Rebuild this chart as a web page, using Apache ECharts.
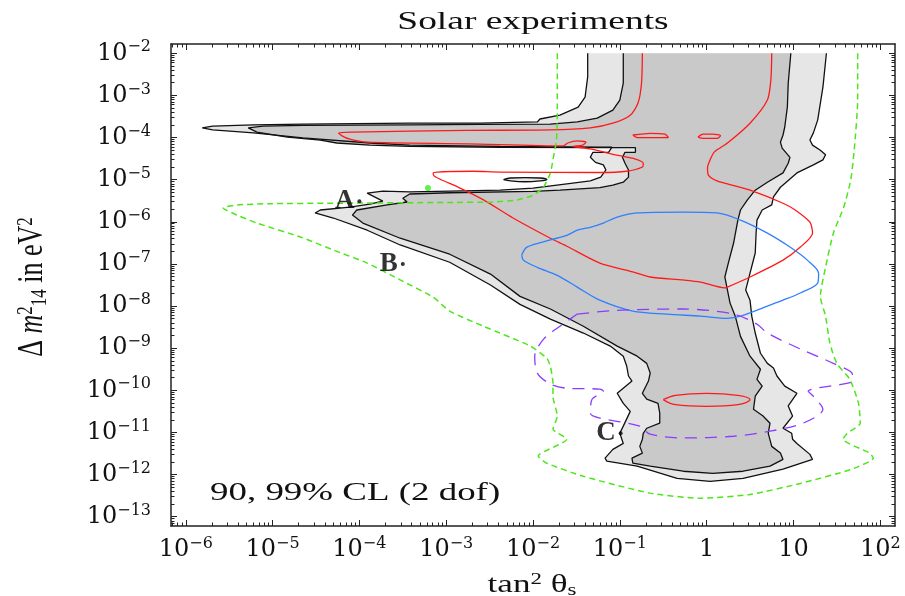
<!DOCTYPE html>
<html>
<head>
<meta charset="utf-8">
<script src="https://cdn.jsdelivr.net/npm/echarts@6/dist/echarts.min.js"></script>
<style>
  html, body { margin: 0; padding: 0; background: #fff; }
  #chart { width: 905px; height: 596px; }
</style>
</head>
<body>
<div id="chart"></div>
<script>
// All coordinates are [log10(tan^2 theta_s), log10(dm^2_14 / eV^2)].

// Axis decades (major ticks and labels)
const xDecades = [-6, -5, -4, -3, -2, -1, 0, 1, 2];
const yDecades = [-13, -12, -11, -10, -9, -8, -7, -6, -5, -4, -3, -2];
const xRange = [-6.17, 2.17];
const yRange = [-13.22, -1.78];

// 99% CL allowed region (open along the top edge of the scan at 1e-2 eV^2)
const cl99 = [
  [-1.37,-2.00],[-1.37,-2.56],[-1.40,-3.04],[-1.48,-3.28],[-1.69,-3.47],[-1.92,-3.56],[-1.95,-3.63],
  [-2.61,-3.66],[-3.42,-3.66],[-4.65,-3.68],[-5.22,-3.70],[-5.69,-3.73],[-5.81,-3.77],
  [-5.69,-3.82],[-5.22,-3.89],[-4.65,-4.01],[-3.88,-4.13],[-3.42,-4.18],[-2.38,-4.21],[-1.23,-4.23],[-1.09,-4.23],
  [-1.13,-4.35],[-1.31,-4.35],[-1.34,-4.47],[-1.28,-4.59],[-1.19,-4.65],[-1.16,-4.77],[-1.22,-4.94],[-1.34,-5.03],
  [-1.61,-5.10],[-2.00,-5.20],[-2.38,-5.25],[-2.96,-5.27],[-3.42,-5.29],[-3.73,-5.27],[-3.91,-5.32],
  [-3.73,-5.51],[-3.88,-5.58],[-4.11,-5.65],[-4.45,-5.72],[-4.51,-5.79],[-4.30,-5.91],[-3.91,-6.20],[-3.53,-6.55],
  [-2.96,-6.96],[-2.49,-7.50],[-2.15,-7.96],[-1.80,-8.31],[-1.42,-8.64],[-1.11,-8.95],[-0.96,-9.19],[-0.92,-9.43],
  [-0.90,-9.66],[-0.86,-9.78],[-1.03,-10.07],[-0.96,-10.31],[-0.88,-10.50],[-0.96,-10.85],[-1.00,-11.02],[-0.96,-11.26],
  [-1.08,-11.40],[-1.17,-11.61],[-1.15,-11.68],[-0.80,-11.80],[-0.34,-12.09],[0.04,-12.16],[0.42,-12.09],[0.88,-11.87],
  [1.22,-11.64],[1.19,-11.52],[1.04,-11.26],[0.99,-11.16],[0.98,-11.02],[0.88,-10.90],[0.99,-10.61],[0.94,-10.37],
  [1.04,-10.07],[0.90,-9.90],[0.81,-9.66],[0.77,-9.47],[0.70,-9.36],[0.62,-9.12],[0.56,-8.64],[0.52,-8.24],[0.50,-7.86],
  [0.45,-7.62],[0.50,-7.22],[0.56,-6.74],[0.57,-6.27],[0.58,-5.96],[0.64,-5.72],[0.75,-5.60],[0.77,-5.41],[0.85,-5.18],
  [1.04,-4.84],[1.23,-4.65],[1.34,-4.53],[1.37,-4.41],[1.31,-4.30],[1.22,-4.18],[1.19,-4.06],[1.23,-3.89],[1.28,-3.58],
  [1.34,-2.80],[1.38,-2.00]
];

// 90% CL allowed region
const cl90 = [
  [-0.96,-2.00],[-0.96,-2.71],[-1.00,-3.11],[-1.08,-3.35],[-1.26,-3.54],[-1.49,-3.63],[-1.80,-3.68],[-2.61,-3.69],
  [-3.42,-3.70],[-4.65,-3.71],[-5.11,-3.73],[-5.28,-3.77],[-5.18,-3.87],[-4.83,-3.99],[-4.45,-4.06],[-4.26,-4.13],
  [-3.88,-4.18],[-3.42,-4.21],[-2.38,-4.23],[-1.23,-4.24],[-0.82,-4.24],[-0.82,-4.35],[-0.94,-4.35],[-0.97,-4.47],
  [-0.94,-4.61],[-0.90,-4.77],[-0.90,-4.94],[-0.96,-5.06],[-1.08,-5.13],[-1.23,-5.19],[-1.69,-5.25],[-2.00,-5.28],
  [-2.96,-5.31],[-3.42,-5.34],[-3.50,-5.44],[-3.45,-5.53],[-3.68,-5.60],[-4.03,-5.72],[-4.08,-5.84],[-3.96,-6.03],
  [-3.53,-6.39],[-2.96,-6.77],[-2.49,-7.24],[-2.15,-7.77],[-1.80,-8.07],[-1.42,-8.48],[-1.03,-8.95],[-0.80,-9.19],
  [-0.69,-9.36],[-0.65,-9.59],[-0.67,-9.78],[-0.74,-10.07],[-0.69,-10.21],[-0.56,-10.31],[-0.54,-10.54],[-0.54,-10.78],
  [-0.69,-10.90],[-0.73,-11.02],[-0.74,-11.16],[-0.77,-11.33],[-0.74,-11.49],[-0.86,-11.61],[-0.85,-11.73],[-0.65,-11.80],
  [-0.27,-11.92],[0.07,-11.97],[0.42,-11.92],[0.73,-11.80],[0.88,-11.64],[0.85,-11.49],[0.75,-11.33],[0.71,-11.02],
  [0.73,-10.78],[0.65,-10.61],[0.54,-10.45],[0.56,-10.14],[0.64,-9.90],[0.58,-9.74],[0.62,-9.50],[0.50,-9.19],
  [0.39,-8.72],[0.33,-8.24],[0.27,-7.93],[0.24,-7.62],[0.21,-7.31],[0.25,-6.98],[0.31,-6.51],[0.36,-5.96],[0.39,-5.72],
  [0.47,-5.48],[0.56,-5.25],[0.70,-5.06],[0.88,-4.84],[0.94,-4.61],[0.96,-4.47],[0.87,-4.25],[0.85,-4.11],[0.88,-3.94],
  [0.90,-3.75],[0.93,-3.28],[0.94,-2.71],[0.97,-2.00]
];

// small isolated 99% CL island
const cl99Island = [
  [-2.34,-5.00],[-2.26,-4.96],[-2.09,-4.95],[-1.92,-4.96],[-1.84,-5.00],[-1.92,-5.03],[-2.09,-5.05],[-2.26,-5.03]
];

// red (solid) contour
const redMain = [
  [-0.74,-2.00],[-0.75,-2.71],[-0.79,-3.18],[-0.88,-3.47],[-1.08,-3.66],[-1.34,-3.77],[-1.80,-3.82],[-2.76,-3.83],
  [-4.07,-3.87],[-4.24,-3.89],[-4.20,-3.96],[-4.11,-4.04],[-3.91,-4.11],[-2.76,-4.15],[-1.65,-4.20],[-1.60,-4.13],
  [-1.49,-4.08],[-1.39,-4.11],[-1.43,-4.18],[-1.54,-4.21],[-1.34,-4.27],[-1.05,-4.41],[-0.82,-4.51],[-0.73,-4.61],
  [-0.74,-4.70],[-0.92,-4.80],[-1.23,-4.83],[-2.38,-4.82],[-2.69,-4.80],[-3.15,-4.84],[-3.14,-4.91],[-3.07,-4.99],
  [-2.84,-5.20],[-2.57,-5.48],[-2.23,-5.91],[-1.80,-6.39],[-1.61,-6.58],[-1.23,-6.98],[-0.85,-7.19],[-0.65,-7.31],
  [-0.27,-7.38],[-0.07,-7.43],[0.21,-7.57],[0.24,-7.55],[0.50,-7.31],[0.88,-6.91],[1.08,-6.60],[1.22,-6.27],
  [1.19,-6.01],[1.02,-5.72],[0.88,-5.56],[0.50,-5.25],[0.24,-5.10],[0.12,-5.03],[0.02,-4.89],[0.01,-4.72],
  [0.04,-4.53],[0.09,-4.34],[0.24,-4.13],[0.50,-3.66],[0.70,-3.11],[0.74,-2.63],[0.75,-2.00]
];
const redLoopA = [[-0.85,-3.94],[-0.80,-4.00],[-0.44,-4.00],[-0.48,-3.92],[-0.65,-3.90]];
const redLoopB = [[-0.10,-3.99],[-0.04,-3.92],[0.07,-3.92],[0.16,-3.96],[0.12,-4.02],[-0.04,-4.02]];
const redLow = [
  [-0.50,-10.22],[-0.36,-10.12],[0.00,-10.07],[0.36,-10.12],[0.50,-10.22],[0.36,-10.34],[0.00,-10.38],[-0.36,-10.34]
];

// blue (solid) contour
const blue = [
  [-2.13,-6.79],[-2.07,-6.60],[-1.80,-6.43],[-1.61,-6.32],[-1.49,-6.20],[-1.34,-6.13],[-1.19,-6.03],[-1.03,-5.89],
  [-0.80,-5.79],[-0.27,-5.77],[0.12,-5.79],[0.39,-5.96],[0.70,-6.27],[0.96,-6.60],[1.16,-6.91],[1.29,-7.22],
  [1.28,-7.45],[1.08,-7.69],[0.88,-7.86],[0.70,-8.00],[0.39,-8.24],[0.24,-8.29],[-0.07,-8.24],[-0.46,-8.19],
  [-0.85,-8.12],[-1.23,-7.86],[-1.49,-7.55],[-1.72,-7.27],[-1.95,-7.08],[-2.11,-6.91]
];

// purple (dashed) contour
const purple = [
  [-1.49,-8.19],[-1.03,-8.10],[-0.27,-8.07],[0.31,-8.19],[0.58,-8.43],[0.70,-8.64],[1.08,-9.02],[1.46,-9.36],
  [1.68,-9.62],[1.68,-9.78],[1.57,-9.85],[1.17,-10.02],[1.23,-10.14],[1.34,-10.45],[1.11,-10.78],[0.73,-10.97],
  [0.31,-11.09],[-0.27,-11.13],[-0.65,-11.04],[-0.77,-10.85],[-1.34,-10.54],[-1.32,-10.21],[-1.19,-10.02],
  [-1.23,-9.97],[-1.61,-9.95],[-1.80,-9.85],[-1.95,-9.59],[-1.98,-9.19],[-1.88,-8.79],[-1.69,-8.48]
];

// green (dashed) contour, open along the top edge
const green = [
  [-1.72,-2.00],[-1.72,-2.71],[-1.72,-3.42],[-1.73,-4.06],[-1.77,-4.53],[-1.80,-4.84],[-1.88,-5.18],[-2.00,-5.37],
  [-2.18,-5.48],[-2.46,-5.53],[-2.96,-5.54],[-4.37,-5.56],[-5.03,-5.57],[-5.41,-5.60],[-5.57,-5.67],[-5.41,-5.84],
  [-5.18,-6.03],[-4.68,-6.36],[-4.30,-6.67],[-3.91,-6.98],[-3.53,-7.38],[-3.15,-7.79],[-2.96,-8.12],[-2.57,-8.48],
  [-2.03,-8.95],[-1.84,-9.24],[-1.80,-9.43],[-1.77,-9.83],[-1.77,-10.14],[-1.72,-10.61],[-1.77,-10.92],[-1.61,-11.16],
  [-1.94,-11.56],[-1.84,-11.73],[-1.42,-12.04],[-0.65,-12.44],[-0.07,-12.56],[0.50,-12.47],[1.08,-12.21],[1.66,-11.88],
  [1.92,-11.61],[1.88,-11.49],[1.57,-11.16],[1.62,-11.02],[1.77,-10.78],[1.75,-10.31],[1.65,-9.74],[1.50,-9.36],
  [1.42,-8.88],[1.37,-8.24],[1.31,-7.77],[1.37,-7.08],[1.46,-6.27],[1.58,-5.65],[1.66,-5.01],[1.70,-4.30],
  [1.74,-3.11],[1.74,-2.00]
];

// benchmark points
const pointNames = ['A', 'B', 'C'];
const pointX = [-4.00, -3.50, -0.99];
const pointY = [-5.51, -7.00, -11.02];
const greenPoint = [-3.21, -5.20];

const SERIF_WIDE = 'DejaVu Serif';
const SERIF = 'Liberation Serif';

function minorTicks(range) {
  const out = [];
  for (let n = Math.floor(range[0]) - 1; n <= Math.ceil(range[1]); n++) {
    for (let k = 2; k <= 9; k++) {
      const v = n + Math.log10(k);
      if (v > range[0] && v < range[1]) out.push(v);
    }
  }
  return out;
}

function powLabel(v) {
  const n = Math.round(v);
  if (n === 0) return '{n|1}';
  if (n === 1) return '{n|10}';
  return '{n|10}{e|' + (n < 0 ? '\u2212' : '') + Math.abs(n) + '}';
}

const labelRich = {
  n: { fontFamily: SERIF_WIDE, fontSize: 24, color: '#111', lineHeight: 28 },
  e: { fontFamily: SERIF_WIDE, fontSize: 16, color: '#111', verticalAlign: 'top', lineHeight: 16 }
};

const frame = { show: true, onZero: false, lineStyle: { color: '#222', width: 1.5 } };
const noLine = { show: false, onZero: false };

function xAxisDef(grid, pos, major, labels) {
  return {
    type: 'value', gridIndex: grid, position: pos, min: xRange[0], max: xRange[1],
    axisLine: major ? frame : noLine,
    splitLine: { show: false },
    axisTick: { show: true, inside: true, length: major ? 6 : 3.5,
      customValues: major ? xDecades : minorTicks(xRange),
      lineStyle: { color: '#222', width: 1 } },
    axisLabel: labels ? { show: true, customValues: xDecades, formatter: powLabel, rich: labelRich, margin: 10 } : { show: false }
  };
}
function yAxisDef(grid, pos, major, labels) {
  return {
    type: 'value', gridIndex: grid, position: pos, min: yRange[0], max: yRange[1],
    axisLine: major ? frame : noLine,
    splitLine: { show: false },
    axisTick: { show: true, inside: true, length: major ? 6 : 3.5,
      customValues: major ? yDecades : minorTicks(yRange),
      lineStyle: { color: '#222', width: 1 } },
    axisLabel: labels ? { show: true, customValues: yDecades, formatter: powLabel, rich: labelRich, margin: 20, align: 'right' } : { show: false }
  };
}

function fillSeries(pts, color, z) {
  return {
    type: 'custom', coordinateSystem: 'cartesian2d', xAxisIndex: 0, yAxisIndex: 0,
    data: [pts[0]], clip: true, silent: true, z,
    renderItem: (params, api) => ({
      type: 'polygon',
      shape: { points: pts.map(p => api.coord(p)) },
      style: { fill: color, stroke: null }
    })
  };
}

function lineSeries(pts, color, width, dash, z, smooth, closed) {
  return {
    type: 'line', xAxisIndex: 0, yAxisIndex: 0,
    data: closed ? pts.concat([pts[0]]) : pts,
    symbol: 'none', smooth: smooth, silent: true, z,
    lineStyle: { color, width, type: dash }
  };
}

const chart = echarts.init(document.getElementById('chart'), null, { renderer: 'canvas' });

const gridBox = { left: 171, top: 44, width: 724, height: 482 };

chart.setOption({
  animation: false,
  backgroundColor: '#fff',
  grid: [Object.assign({}, gridBox), Object.assign({}, gridBox)],
  xAxis: [
    xAxisDef(0, 'bottom', true, true),
    xAxisDef(0, 'top', true, false),
    xAxisDef(1, 'bottom', false, false),
    xAxisDef(1, 'top', false, false)
  ],
  yAxis: [
    yAxisDef(0, 'left', true, true),
    yAxisDef(0, 'right', true, false),
    yAxisDef(1, 'left', false, false),
    yAxisDef(1, 'right', false, false)
  ],
  series: [
    fillSeries(cl99, '#e6e6e6', 1),
    fillSeries(cl90, '#c9c9c9', 2),
    fillSeries(cl99Island, '#e6e6e6', 2),
    lineSeries(cl99, '#111', 1.3, 'solid', 3, false, false),
    lineSeries(cl90, '#111', 1.3, 'solid', 3, false, false),
    lineSeries(cl99Island, '#111', 1.3, 'solid', 3, 0.4, true),
    lineSeries(redMain, '#ff1a1a', 1.3, 'solid', 4, 0.25, false),
    lineSeries(redLoopA, '#ff1a1a', 1.3, 'solid', 4, 0.2, true),
    lineSeries(redLoopB, '#ff1a1a', 1.3, 'solid', 4, 0.3, true),
    lineSeries(redLow, '#ff1a1a', 1.3, 'solid', 4, 0.4, true),
    lineSeries(blue, '#2f7fff', 1.3, 'solid', 4, 0.3, true),
    lineSeries(purple, '#8a3cff', 1.3, [12, 8], 4, 0.3, true),
    lineSeries(green, '#4ee61a', 1.5, [6, 4], 5, 0.2, false),
    {
      type: 'scatter', xAxisIndex: 0, yAxisIndex: 0, z: 10, silent: true,
      symbolSize: 4, itemStyle: { color: '#000' },
      data: pointNames.map((n, i) => ({ name: n, value: [pointX[i], pointY[i]] })),
      label: { show: true, position: 'left', distance: 3, formatter: '{b}',
        fontFamily: SERIF, fontWeight: 'bold', fontSize: 27, color: '#000' }
    },
    {
      type: 'scatter', xAxisIndex: 0, yAxisIndex: 0, z: 10, silent: true,
      symbolSize: 6, itemStyle: { color: '#33ee22' },
      data: [greenPoint]
    }
  ],
  graphic: [
    { type: 'text', x: 533, y: 22, scaleX: 1.44, silent: true,
      style: { text: 'Solar experiments', fontFamily: SERIF, fontSize: 26, fill: '#111',
        align: 'center', verticalAlign: 'middle', textAlign: 'center', textVerticalAlign: 'middle' } },
    { type: 'text', x: 210, y: 493, scaleX: 1.42, silent: true,
      style: { text: '90, 99% CL (2 dof)', fontFamily: SERIF, fontSize: 26, fill: '#111',
        align: 'left', verticalAlign: 'middle', textAlign: 'left', textVerticalAlign: 'middle' } },
    { type: 'text', x: 532, y: 585, scaleX: 1.35, silent: true,
      style: { text: '{a|tan}{p|2}{a| \u03B8}{q|s}', fill: '#111',
        align: 'center', verticalAlign: 'middle', textAlign: 'center', textVerticalAlign: 'middle',
        rich: {
          a: { fontFamily: SERIF, fontSize: 26, lineHeight: 28 },
          p: { fontFamily: SERIF, fontSize: 17, verticalAlign: 'top', lineHeight: 17 },
          q: { fontFamily: SERIF, fontSize: 17, verticalAlign: 'bottom', lineHeight: 17 }
        } } },
    { type: 'text', x: 33, y: 287, rotation: Math.PI / 2, scaleY: 1.35, silent: true,
      style: { text: '{a|\u0394 }{m|m}{p|2}{q|14}{a| in eV}{p|2}', fill: '#111',
        align: 'center', verticalAlign: 'middle', textAlign: 'center', textVerticalAlign: 'middle',
        rich: {
          a: { fontFamily: SERIF, fontSize: 26, lineHeight: 28 },
          m: { fontFamily: SERIF, fontStyle: 'italic', fontSize: 26, lineHeight: 28 },
          p: { fontFamily: SERIF, fontSize: 17, verticalAlign: 'top', lineHeight: 17 },
          q: { fontFamily: SERIF, fontSize: 17, verticalAlign: 'bottom', lineHeight: 17 }
        } } }
  ]
});
</script>
</body>
</html>
